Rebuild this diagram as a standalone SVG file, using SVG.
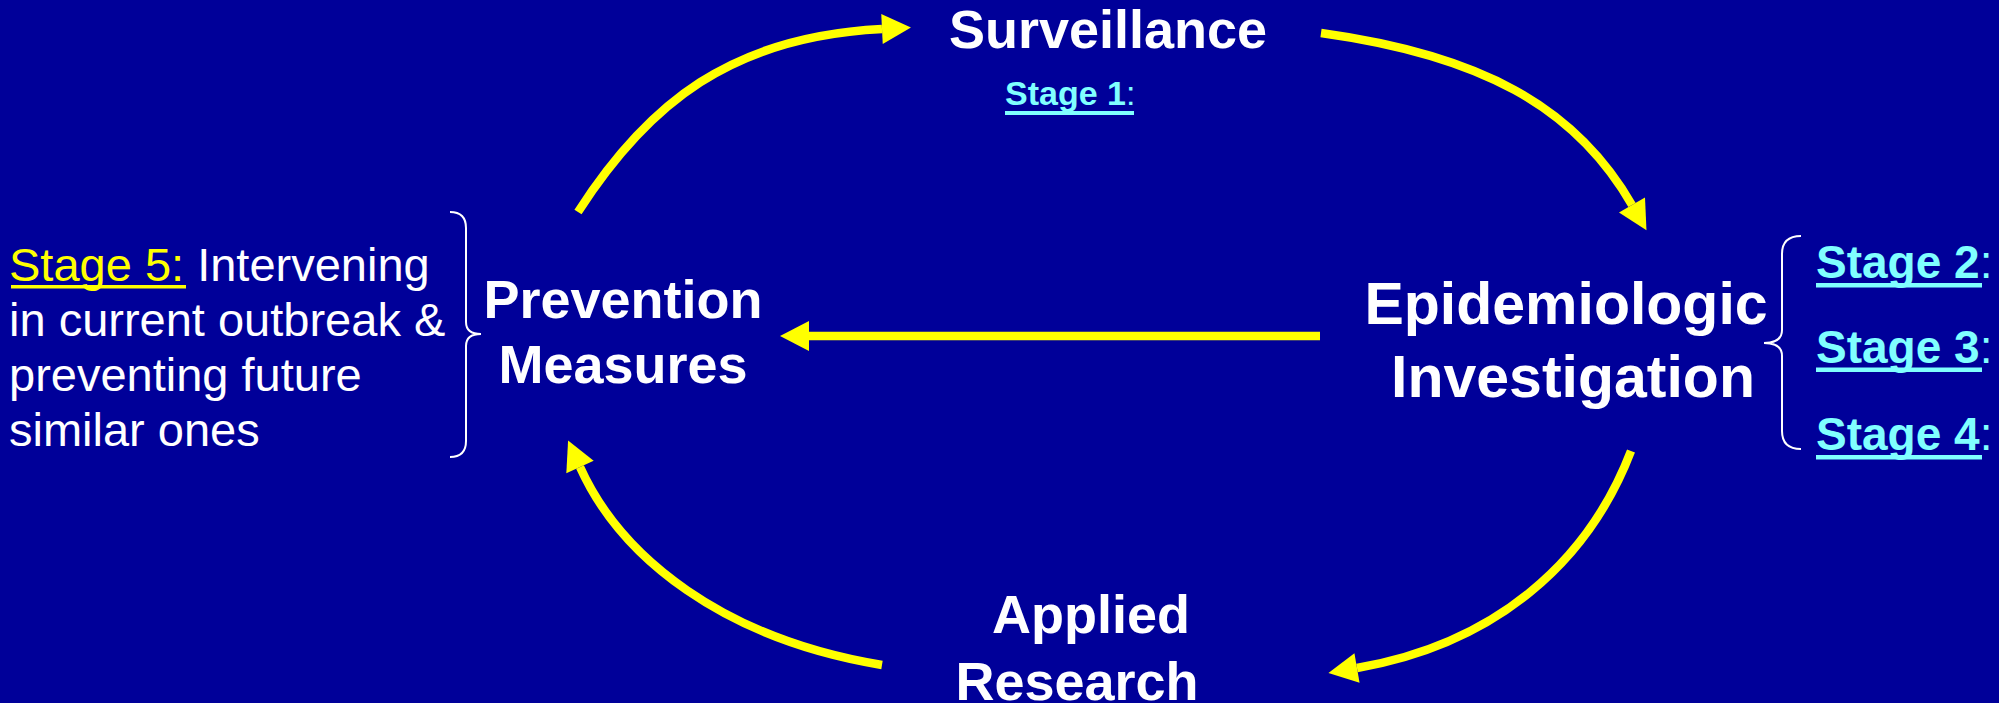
<svg xmlns="http://www.w3.org/2000/svg" width="1999" height="703" viewBox="0 0 1999 703">
  <style>
    .title { font-family: "Liberation Sans", Arial, sans-serif; font-weight: bold; font-size: 54px; fill: #FFFFFF; text-anchor: middle; }
    .big { font-size: 59px; }
    .stage { font-family: "Liberation Sans", Arial, sans-serif; font-weight: bold; fill: #80FFFF; }
    .colon { font-weight: normal; }
    .body { font-family: "Liberation Sans", Arial, sans-serif; font-size: 47px; fill: #FFFFFF; }
    .flow { fill: none; stroke: #FFFF00; stroke-width: 8.5; stroke-linecap: butt; marker-end: url(#ah); }
    .brace { fill: none; stroke: #FFFFFF; stroke-width: 2; }
    .ucyan { fill: #80FFFF; }
  </style>
  <defs>
    <marker id="ah" markerUnits="userSpaceOnUse" markerWidth="30" markerHeight="32" refX="0" refY="15" orient="auto" overflow="visible">
      <path d="M0,0 L29,15 L0,30 Z" fill="#FFFF00"/>
    </marker>
  </defs>
  <rect x="0" y="0" width="1999" height="703" fill="#000099"/>

  <g id="connectors">
    <path class="flow" d="M578,212 C648,103 732,36.5 882,29"/>
    <path class="flow" d="M1321,33 C1480,55 1575,106 1632,205"/>
    <path class="flow" d="M1631,451 C1588,563 1495,644 1357,668"/>
    <path class="flow" d="M882,665 C724,639 621,558 580,467"/>
    <path class="flow" d="M1320,336 L809,336"/>
  </g>

  <g id="surveillance">
    <text class="title" x="1108" y="48">Surveillance</text>
    <text class="stage" x="1005" y="105" font-size="34">Stage 1<tspan class="colon">:</tspan></text>
    <rect class="ucyan" x="1005" y="111" width="129" height="4"/>
  </g>

  <g id="epidemiologic-investigation">
    <text class="title big" x="1566" y="324">Epidemiologic</text>
    <text class="title big" x="1573" y="397">Investigation</text>
    <path class="brace" d="M1801,236 Q1782,236 1782,254 L1782,330 Q1782,343 1764,343 Q1782,343 1782,356 L1782,431 Q1782,449 1801,449"/>
    <text class="stage" x="1816" y="278" font-size="46">Stage 2<tspan class="colon">:</tspan></text>
    <rect class="ucyan" x="1816" y="283" width="166" height="4.5"/>
    <text class="stage" x="1816" y="363" font-size="46">Stage 3<tspan class="colon">:</tspan></text>
    <rect class="ucyan" x="1816" y="367.5" width="166" height="4.5"/>
    <text class="stage" x="1816" y="450" font-size="46">Stage 4<tspan class="colon">:</tspan></text>
    <rect class="ucyan" x="1816" y="455" width="166" height="4.5"/>
  </g>

  <g id="applied-research">
    <text class="title" x="1091" y="633">Applied</text>
    <text class="title" x="1077" y="700">Research</text>
  </g>

  <g id="prevention-measures">
    <text class="title" x="623" y="318">Prevention</text>
    <text class="title" x="623" y="383">Measures</text>
    <path class="brace" d="M450,212 Q466,212 466,228 L466,322 Q466,334 481,334 Q466,334 466,346 L466,441 Q466,457 450,457"/>
    <text class="body" x="9" y="281"><tspan fill="#FFFF00">Stage 5:</tspan> Intervening</text>
    <rect x="11" y="285" width="175" height="3.5" fill="#FFFF00"/>
    <text class="body" x="9" y="336">in current outbreak &amp;</text>
    <text class="body" x="9" y="391">preventing future</text>
    <text class="body" x="9" y="446">similar ones</text>
  </g>
</svg>
